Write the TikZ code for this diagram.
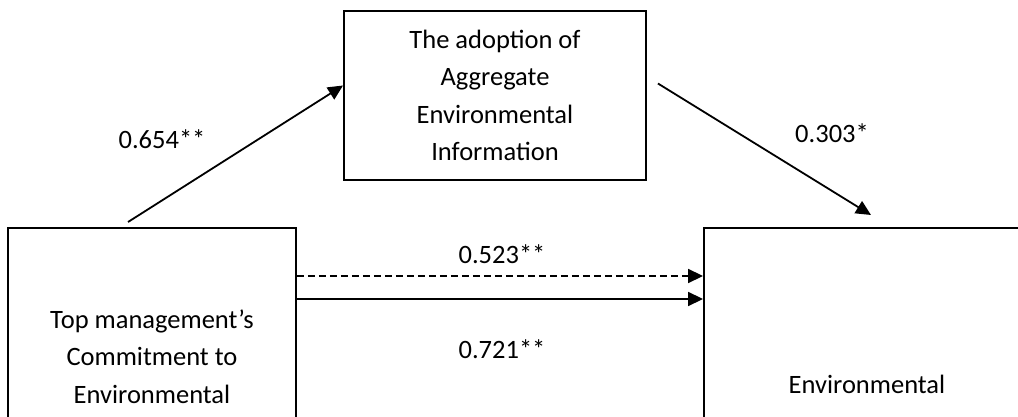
\documentclass[tikz,border=0pt]{standalone}
\usepackage{fontspec}
\setmainfont{Carlito}
\usetikzlibrary{arrows.meta}
\tikzset{
  box/.style={draw, line width=1.9pt, align=center, inner sep=0pt,
    font=\fontsize{26.5}{37.5}\selectfont},
  lbl/.style={font=\fontsize{26.5}{37.5}\selectfont, inner sep=0pt, anchor=base},
  arr/.style={line width=1.8pt, -{Triangle[length=15pt,width=14pt]}},
  dsh/.style={dash pattern=on 7pt off 4pt}
}
\begin{document}
\begin{tikzpicture}[x=1pt,y=-1pt]
\useasboundingbox (0,0) rectangle (1018,417);
\clip (0,0) rectangle (1018,417);
% boxes
\node[box, minimum width=302pt, minimum height=169pt] (ag) at (495,95.5)
  {The adoption of\\Aggregate\\Environmental\\Information};
\node[box, minimum width=288pt, minimum height=257pt, anchor=north] (tm) at (152,227)
  {Top management’s\\Commitment to\\Environmental};
\node[box, minimum width=326pt, minimum height=313pt, anchor=north] (env) at (867,227)
  {Environmental};
% connectors
\coordinate (s1) at ([xshift=121pt,yshift=5pt]tm.north west);
\coordinate (e1) at ([yshift=10pt]ag.west);
\draw[arr] (s1) -- (e1);
\coordinate (s2) at ([xshift=11pt,yshift=12pt]ag.east);
\coordinate (e2) at ([xshift=4pt,yshift=12pt]env.north);
\draw[arr] (s2) -- (e2);
\coordinate (d1) at ([yshift=-49pt]tm.north east);
\draw[arr,dsh] (d1) -- (d1 -| env.west);
\coordinate (d2) at ([yshift=-72pt]tm.north east);
\draw[arr] (d2) -- (d2 -| env.west);
% labels
\node[lbl] (l1) at (162,149) {0.654**};
\node[lbl] (l2) at (832,143) {0.303*};
\node[lbl] (l3) at (502,263) {0.523**};
\node[lbl] (l4) at (502,358) {0.721**};
\end{tikzpicture}
\end{document}
